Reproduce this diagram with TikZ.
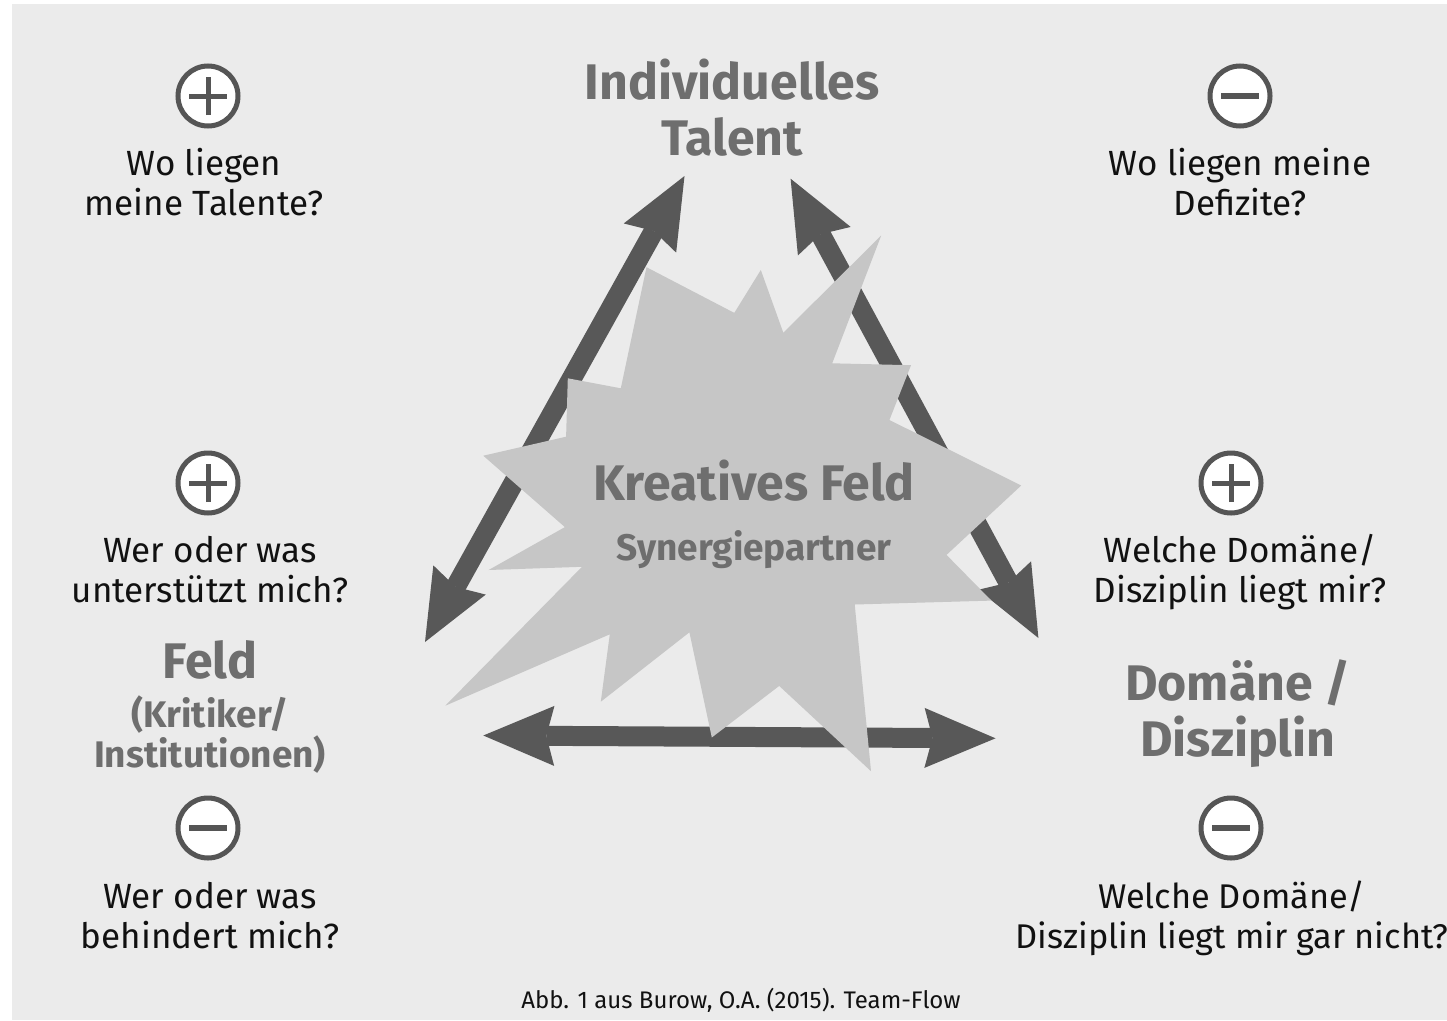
\documentclass[tikz,border=0pt]{standalone}
\usepackage{fontspec}
\setmainfont{Fira Sans}
\usetikzlibrary{arrows.meta}

\definecolor{bggray}{HTML}{EBEBEB}
\definecolor{arrowgray}{HTML}{585858}
\definecolor{burstgray}{HTML}{C6C6C6}
\definecolor{labelgray}{HTML}{6E6E6E}
\definecolor{ringgray}{HTML}{555555}
\definecolor{asktext}{HTML}{111111}

\tikzset{
  question/.style={font=\fontsize{35}{40}\selectfont, align=center,
    text=asktext, inner sep=0pt, anchor=base},
  bigname/.style={font=\bfseries\fontsize{50}{56}\selectfont, align=center,
    text=labelgray, inner sep=0pt, anchor=base},
  midname/.style={font=\bfseries\fontsize{37}{40}\selectfont, align=center,
    text=labelgray, inner sep=0pt, anchor=base},
  ring/.style={circle, draw=ringgray, line width=5pt, fill=white,
    minimum size=60pt, inner sep=0pt},
  sign/.style={draw=ringgray, line width=5pt},
  tip/.tip={Stealth[length=71pt, width=60pt, inset=8pt, line width=0pt]},
  bigarrow/.style={draw=arrowgray, line width=20pt, tip-tip}
}

\begin{document}
\begin{tikzpicture}[x=1pt, y=-1pt]
  % page and grey panel
  \fill[white] (0,0) rectangle (1447,1020);
  \fill[bggray] (12,4) rectangle (1447,1020);
  \useasboundingbox (0,0) rectangle (1447,1020);

  % ends of the three double arrows
  \coordinate (talent-l) at (684.5,176);
  \coordinate (feld-t) at (425,642);
  \coordinate (talent-r) at (790.6,178.7);
  \coordinate (domaene-t) at (1038.4,638);
  \coordinate (feld-r) at (483.3,735.5);
  \coordinate (domaene-l) at (995.5,738.3);

  \draw[bigarrow] (talent-l) -- (feld-t);
  \draw[bigarrow] (talent-r) -- (domaene-t);
  \draw[bigarrow] (feld-r) -- (domaene-l);

  % the burst in the middle
  \fill[burstgray] (646.5,267.2) -- (734.3,312.9) -- (760.8,270) -- (783.3,332.7)
    -- (881.2,235.5) -- (832.2,363.3) -- (911,365.2) -- (889.4,420)
    -- (1021.2,485.5) -- (946.5,554.9) -- (991.4,600.6) -- (854.7,604.5)
    -- (871,771.2) -- (779.2,685.9) -- (711.8,737.5) -- (689.4,632.3)
    -- (600.8,701.7) -- (609.8,634.3) -- (445.3,705.7) -- (582,566.8)
    -- (488.6,570) -- (564.9,527.1) -- (483.3,455.7) -- (566.1,436.7)
    -- (567.8,378.3) -- (620.8,388.3) -- cycle;

  \node[bigname] (kreativ) at (754,500) {Kreatives Feld};
  \node[midname] (partner) at (754,560) {Synergiepartner};

  % the three corners (base = last line)
  \node[bigname] (talent) at (732,155) {Individuelles\\Talent};
  \node[bigname] (feld) at (210,678) {Feld};
  \node[midname] (institution) at (210,767) {(Kritiker/\\Institutionen)};
  \node[bigname] (domaene) at (1238,756) {Domäne /\\Disziplin};

  % plus and minus rings
  \foreach \name/\pos in {tl/{(208,96)}, ml/{(208,483)}, mr/{(1231,483)}}{
    \node[ring] (\name) at \pos {};
    \draw[sign] ([xshift=-19pt]\name.center) -- ([xshift=19pt]\name.center);
    \draw[sign] ([yshift=-19pt]\name.center) -- ([yshift=19pt]\name.center);
  }
  \foreach \name/\pos in {tr/{(1240,96)}, bl/{(208,828)}, br/{(1231,828)}}{
    \node[ring] (\name) at \pos {};
    \draw[sign, line width=6pt] ([xshift=-19pt]\name.center) -- ([xshift=19pt]\name.center);
  }

  % questions
  \node[question] (tl-q) at (204,215) {Wo liegen\\meine Talente?};
  \node[question] (tr-q) at (1240,215) {Wo liegen meine\\Defizite?};
  \node[question] (ml-q) at (210,602) {Wer oder was\\unterstützt mich?};
  \node[question] (mr-q) at (1240,602) {Welche Domäne/\\Disziplin liegt mir?};
  \node[question] (bl-q) at (210,948) {Wer oder was\\behindert mich?};
  \node[question, font=\fontsize{34.3}{40}\selectfont] (br-q) at (1232,948)
    {Welche Domäne/\\Disziplin liegt mir gar nicht?};

  \node[font=\fontsize{24}{29}\selectfont, text=asktext, inner sep=0pt, anchor=base]
    (source) at (741,1008) {Abb. 1 aus Burow, O.A. (2015). Team-Flow};
\end{tikzpicture}
\end{document}
